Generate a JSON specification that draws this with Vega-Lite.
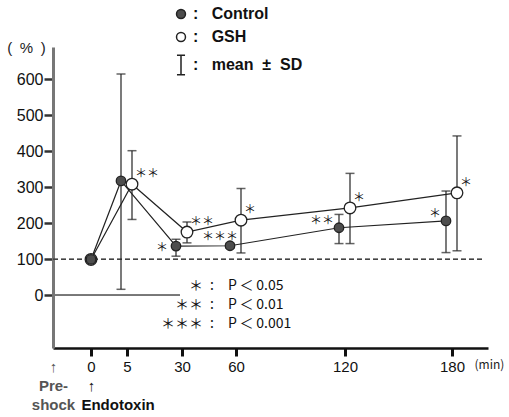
{
  "$schema": "https://vega.github.io/schema/vega-lite/v6.json",
  "width": 435,
  "height": 301,
  "autosize": "none",
  "padding": {"left": 53, "top": 47, "right": 21, "bottom": 69},
  "background": "white",
  "config": {"view": {"stroke": null}, "axis": {"grid": false}},
  "datasets": {
    "series": [
      {"group": "GSH", "t": 0, "mean": 100, "lo": null, "hi": null, "sig": null},
      {"group": "GSH", "t": 5, "mean": 309, "lo": 211, "hi": 402, "sig": "＊＊"},
      {"group": "GSH", "t": 30, "mean": 176, "lo": 146, "hi": 204, "sig": "＊＊"},
      {"group": "GSH", "t": 60, "mean": 209, "lo": 118, "hi": 297, "sig": "＊"},
      {"group": "GSH", "t": 120, "mean": 243, "lo": 144, "hi": 339, "sig": "＊"},
      {"group": "GSH", "t": 180, "mean": 285, "lo": 124, "hi": 443, "sig": "＊"},
      {"group": "Control", "t": 0, "mean": 100, "lo": null, "hi": null, "sig": null},
      {"group": "Control", "t": 5, "mean": 318, "lo": 17, "hi": 615, "sig": null},
      {"group": "Control", "t": 30, "mean": 137, "lo": 109, "hi": 156, "sig": "＊"},
      {"group": "Control", "t": 60, "mean": 138, "lo": 131, "hi": 145, "sig": "＊＊＊"},
      {"group": "Control", "t": 120, "mean": 188, "lo": 144, "hi": 225, "sig": "＊＊"},
      {"group": "Control", "t": 180, "mean": 207, "lo": 119, "hi": 290, "sig": "＊"}
    ]
  },
  "data": {"name": "series"},
  "encoding": {
    "x": {
      "field": "t",
      "type": "quantitative",
      "scale": {
        "type": "linear",
        "domain": [-10, 0, 5, 30, 60, 120, 180, 200],
        "range": [0, 38, 74, 129, 183, 292, 399, 435],
        "nice": false,
        "zero": false
      },
      "axis": {
        "values": [-10, 0, 0.5, 5, 30, 60, 120, 180],
        "title": "(min)",
        "titleX": 421,
        "titleY": 16,
        "titleAlign": "left",
        "titleBaseline": "middle",
        "titleFont": "Noto Sans CJK JP",
        "titleFontSize": 12,
        "titleFontWeight": "normal",
        "titleColor": "#222",
        "domainColor": "#111",
        "domainWidth": 2.5,
        "tickColor": "#111",
        "tickWidth": 3,
        "tickSize": 8,
        "tickOpacity": {"condition": {"test": "datum.value == -10 || datum.value == 0.5", "value": 0}, "value": 1},
        "labelExpr": "datum.value == -10 ? ['↑', 'Pre-', 'shock'] : datum.value == 0 ? ['0', '↑'] : datum.value == 0.5 ? 'Endotoxin' : format(datum.value, 'd')",
        "labelFont": "Liberation Sans",
        "labelFontSize": 15,
        "labelFontWeight": {"condition": {"test": "datum.value == -10 || datum.value == 0.5", "value": "bold"}, "value": "normal"},
        "labelColor": {"condition": {"test": "datum.value == -10", "value": "#555"}, "value": "#111"},
        "labelOffset": {"condition": {"test": "datum.value == 0.5", "value": 23}, "value": 0},
        "labelPadding": {"condition": {"test": "datum.value == 0.5", "value": 41}, "value": 3},
        "labelLineHeight": 19,
        "labelOverlap": false,
        "labelFlush": false,
        "labelBound": false
      }
    },
    "y": {
      "field": "mean",
      "type": "quantitative",
      "scale": {"domain": [-146, 690], "nice": false, "zero": false},
      "axis": {
        "values": [0, 100, 200, 300, 400, 500, 600],
        "title": "(\u2002%\u2002)",
        "titleAngle": 0,
        "titleX": -27,
        "titleY": 0,
        "titleAlign": "center",
        "titleBaseline": "middle",
        "titleFont": "Liberation Sans",
        "titleFontSize": 15,
        "titleFontWeight": "normal",
        "titleColor": "#222",
        "domainColor": "#777",
        "domainWidth": 3,
        "tickColor": "#333",
        "tickWidth": 2.5,
        "tickSize": 9,
        "labelFont": "Liberation Sans",
        "labelFontSize": 16,
        "labelColor": "#111",
        "labelPadding": 1,
        "labelBaseline": "middle"
      }
    }
  },
  "layer": [
    {
      "mark": {"type": "rule", "strokeDash": [5, 3], "color": "#444", "strokeWidth": 1},
      "encoding": {
        "x": {"datum": -10, "type": "quantitative"},
        "x2": {"datum": 198},
        "y": {"datum": 100, "type": "quantitative"}
      }
    },
    {
      "mark": {"type": "rule", "color": "#777", "strokeWidth": 1.2},
      "encoding": {
        "x": {"datum": -10, "type": "quantitative"},
        "x2": {"datum": 29},
        "y": {"datum": 0, "type": "quantitative"}
      }
    },
    {
      "mark": {"type": "rule", "color": "#222", "strokeWidth": 1.2, "xOffset": {"expr": "datum.group == 'Control' ? -6 : 5"}},
      "encoding": {
        "y": {"field": "lo", "type": "quantitative"},
        "y2": {"field": "hi"}
      }
    },
    {
      "mark": {"type": "tick", "orient": "horizontal", "size": 9, "thickness": 1.5, "color": "#222", "xOffset": {"expr": "datum.group == 'Control' ? -6 : 5"}},
      "encoding": {"y": {"field": "lo", "type": "quantitative"}}
    },
    {
      "mark": {"type": "tick", "orient": "horizontal", "size": 9, "thickness": 1.5, "color": "#222", "xOffset": {"expr": "datum.group == 'Control' ? -6 : 5"}},
      "encoding": {"y": {"field": "hi", "type": "quantitative"}}
    },
    {
      "mark": {"type": "line", "color": "#222", "strokeWidth": 1.2, "xOffset": {"expr": "datum.t == 0 ? 0 : datum.group == 'Control' ? -6 : 5"}},
      "encoding": {"detail": {"field": "group", "type": "nominal"}}
    },
    {
      "mark": {"type": "point", "filled": true, "opacity": 1, "stroke": "#222", "strokeWidth": 1.3, "xOffset": {"expr": "datum.t == 0 ? 0 : datum.group == 'Control' ? -6 : 5"}},
      "encoding": {
        "shape": {
          "field": "group", "type": "nominal",
          "scale": {"domain": ["Control", "GSH", "mean ± SD"], "range": ["circle", "circle", "M-0.9,-2.2H0.9M0,-2.2V2.2M-0.9,2.2H0.9"]},
          "legend": {"orient": "none", "legendX": 120, "legendY": -41, "title": null, "symbolSize": 80, "labelFont": "Liberation Sans", "labelFontWeight": "bold", "labelFontSize": 16, "labelColor": "#111", "labelExpr": "':\u00a0\u00a0\u00a0' + (datum.label == 'mean ± SD' ? 'mean\u00a0\u00a0±\u00a0\u00a0SD' : datum.label)", "rowPadding": 7, "labelOffset": 4, "encode": {"symbols": {"update": {"stroke": {"value": "#222"}, "strokeWidth": {"value": 1.5}}}}}
        },
        "fill": {
          "field": "group", "type": "nominal",
          "scale": {"domain": ["Control", "GSH", "mean ± SD"], "range": ["#4d4d4d", "#ffffff", "transparent"]},
          "legend": {"orient": "none", "legendX": 120, "legendY": -41, "title": null, "symbolSize": 80, "labelFont": "Liberation Sans", "labelFontWeight": "bold", "labelFontSize": 16, "labelColor": "#111", "labelExpr": "':\u00a0\u00a0\u00a0' + (datum.label == 'mean ± SD' ? 'mean\u00a0\u00a0±\u00a0\u00a0SD' : datum.label)", "rowPadding": 7, "labelOffset": 4, "encode": {"symbols": {"update": {"stroke": {"value": "#222"}, "strokeWidth": {"value": 1.5}}}}}
        },
        "size": {"condition": {"test": "datum.group == 'GSH'", "value": 135}, "value": 90}
      }
    },
    {
      "encoding": {
        "text": {"field": "sig", "type": "nominal"},
        "opacity": {
          "field": "sig", "type": "nominal",
          "scale": {"domain": ["＊", "＊＊", "＊＊＊"], "range": [1, 1, 1]},
          "legend": {"orient": "none", "legendX": 94, "legendY": 232, "title": null, "symbolSize": 0, "symbolStrokeWidth": 0, "symbolOpacity": 0, "labelOffset": 0, "labelFont": "Noto Sans CJK JP", "labelFontSize": 14, "labelColor": "#111", "labelLimit": 0, "rowPadding": 5, "labelExpr": "datum.label == '＊' ? '\u200b　　＊\u2002:\u2003P\u2009＜\u20090.05' : datum.label == '＊＊' ? '\u200b　＊＊\u2002:\u2003P\u2009＜\u20090.01' : '＊＊＊\u2002:\u2003P\u2009＜\u20090.001'"}
        }
      },
      "layer": [
        {
          "transform": [{"filter": "datum.group == 'GSH' && datum.sig != null"}],
          "mark": {"type": "text", "color": "#111", "font": "Noto Sans CJK JP", "fontSize": 12, "align": "left", "baseline": "middle", "dx": 8, "dy": -10}
        },
        {
          "transform": [{"filter": "datum.group == 'Control' && datum.t == 30"}],
          "mark": {"type": "text", "color": "#111", "font": "Noto Sans CJK JP", "fontSize": 12, "align": "right", "baseline": "middle", "dx": -14, "dy": 2}
        },
        {
          "transform": [{"filter": "datum.group == 'Control' && datum.t == 60"}],
          "mark": {"type": "text", "color": "#111", "font": "Noto Sans CJK JP", "fontSize": 12, "align": "right", "baseline": "middle", "dx": 2, "dy": -9}
        },
        {
          "transform": [{"filter": "datum.group == 'Control' && datum.t >= 120"}],
          "mark": {"type": "text", "color": "#111", "font": "Noto Sans CJK JP", "fontSize": 12, "align": "right", "baseline": "middle", "dx": -11, "dy": -7}
        }
      ]
    }
  ]
}
